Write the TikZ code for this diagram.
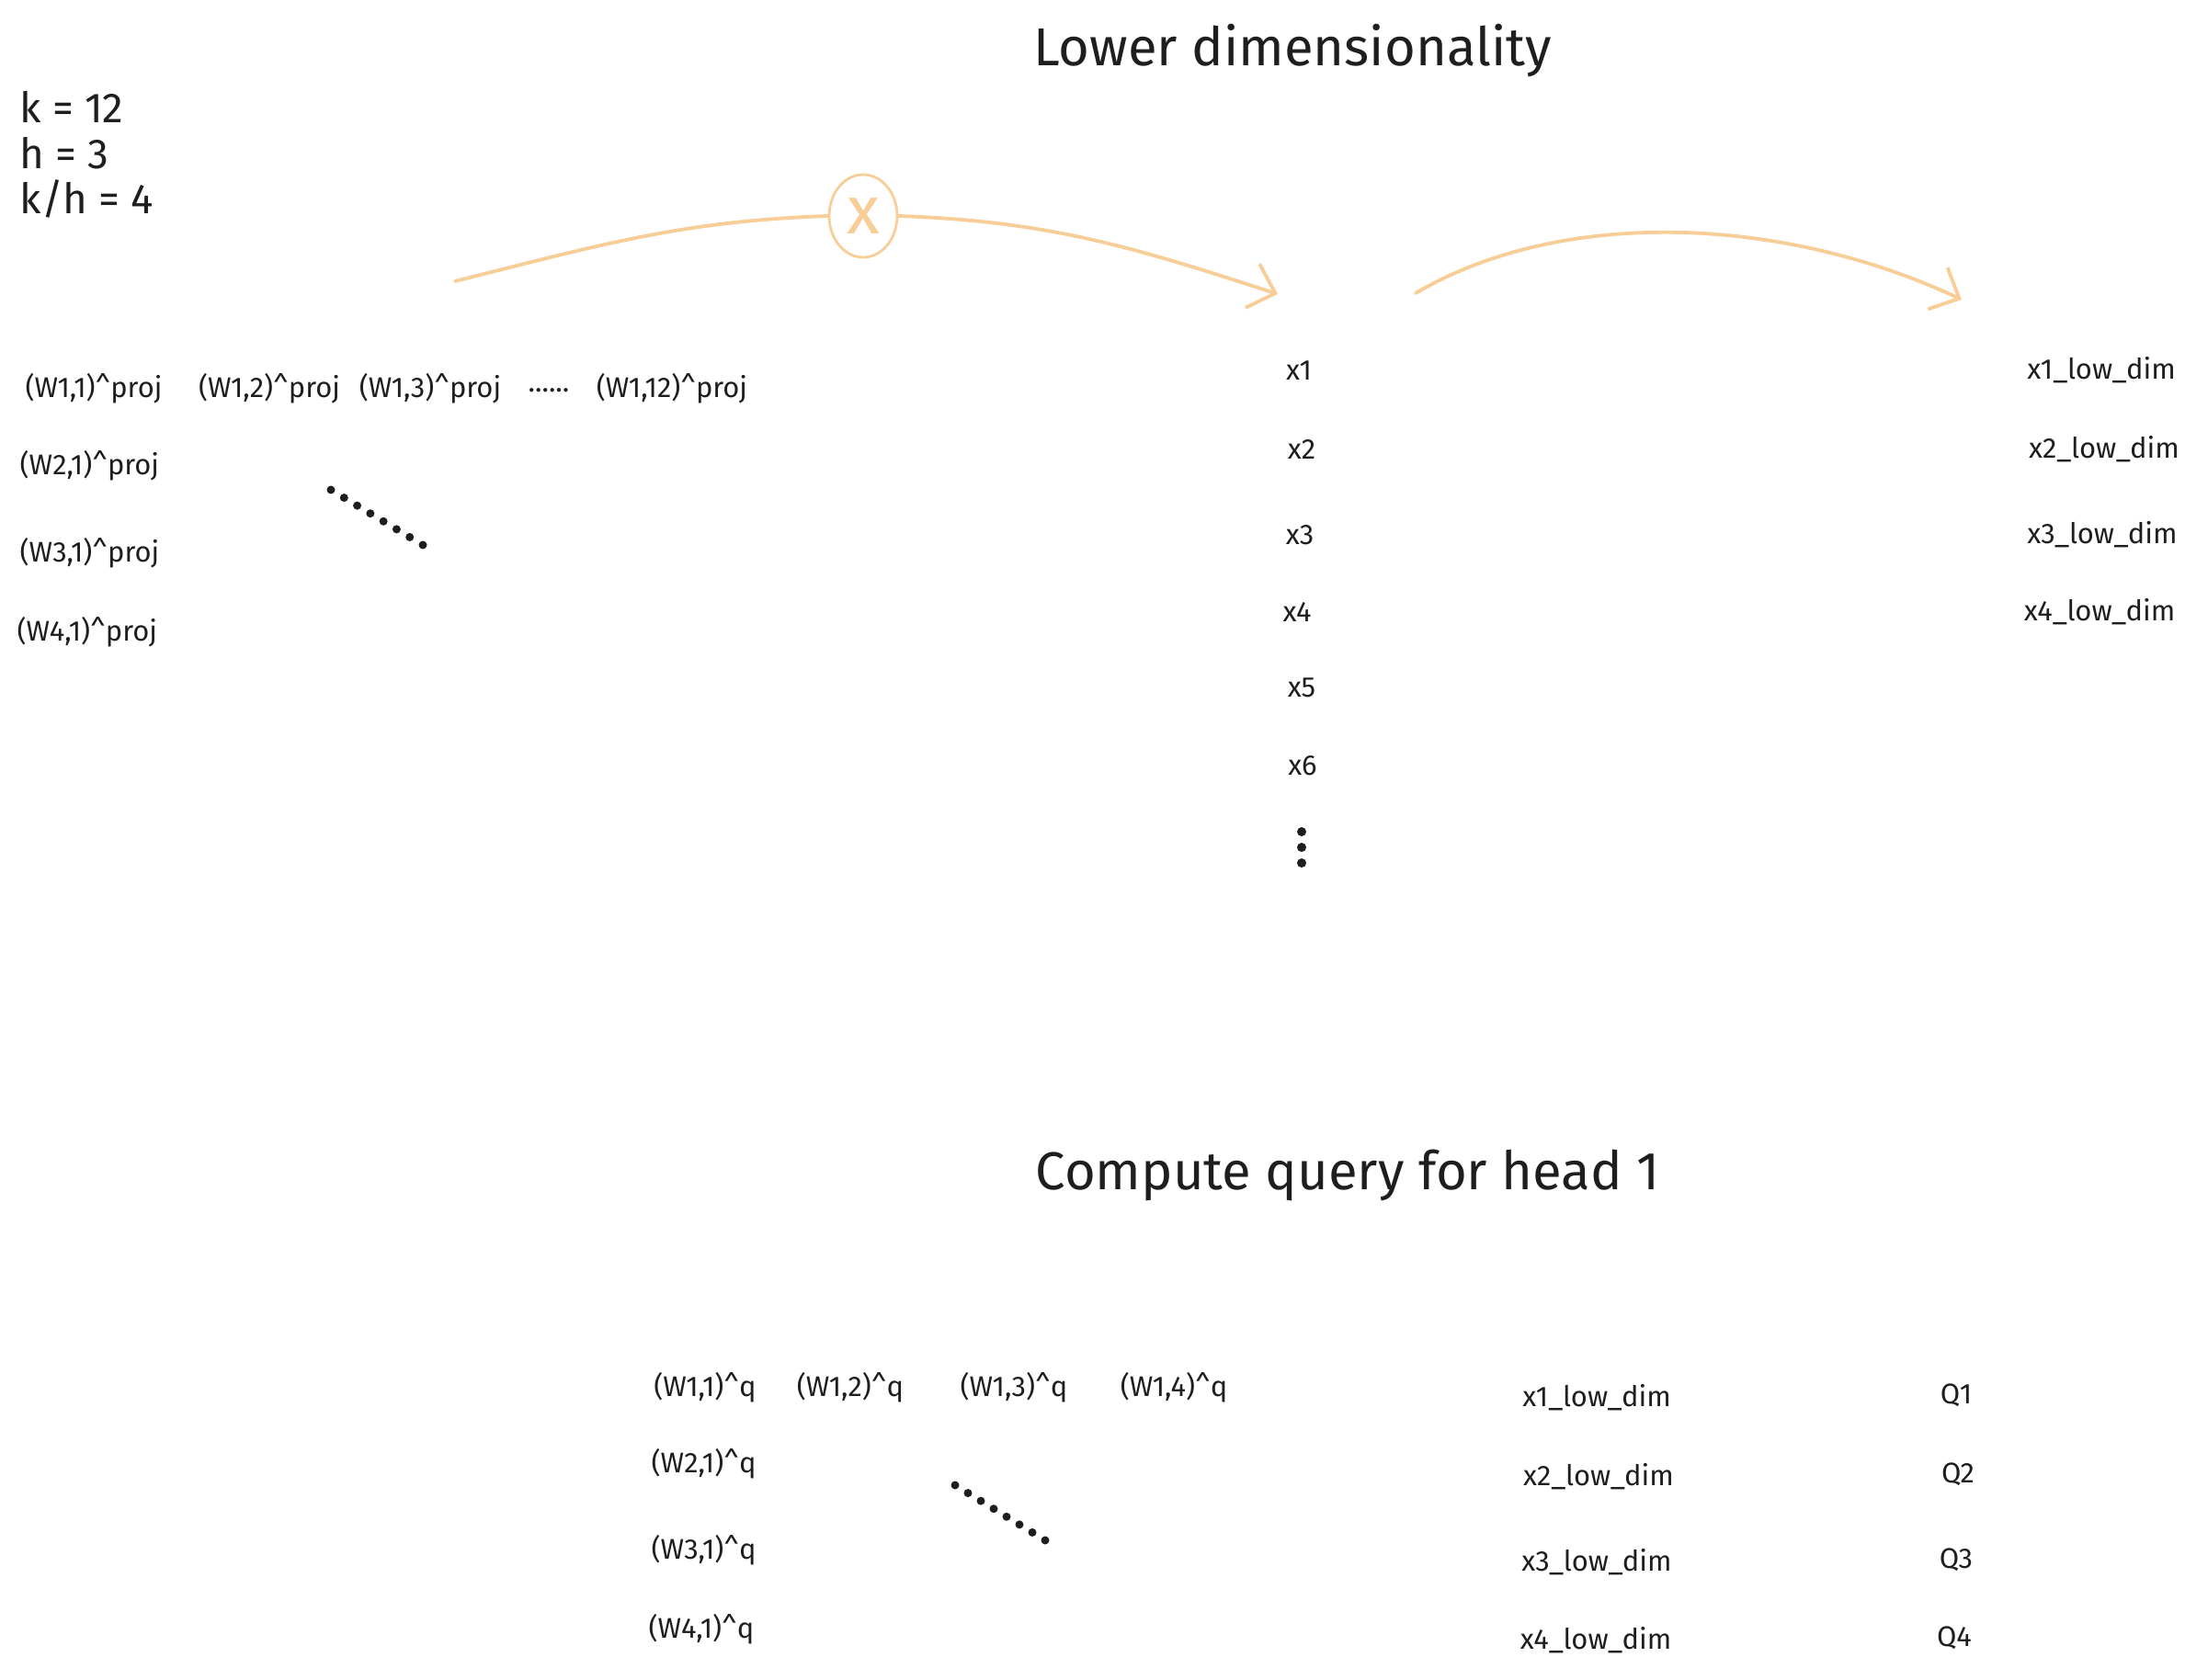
\documentclass[tikz,border=0pt]{standalone}
\usepackage{fontspec}
\setmainfont{Fira Sans}
\usetikzlibrary{arrows.meta,shapes.geometric}
\definecolor{peach}{RGB}{247,206,152}
\definecolor{ink}{RGB}{30,30,30}

\begin{document}
\begin{tikzpicture}[>={Straight Barb[length=2.6mm,width=5mm]}, font=\fontsize{8.8}{10}\selectfont,
    lbl/.style={inner sep=0pt, text=ink},
    note/.style={inner sep=0pt, text=ink, anchor=west, font=\fontsize{13}{15}\selectfont},
    ttl/.style={inner sep=0pt, text=ink, font=\fontsize{16.5}{19}\selectfont},
    sketch/.style={draw=peach, line width=1.1pt, line cap=round}]

        \useasboundingbox (0,0) rectangle (24.02,-18.28);

        % -----------------------
        % 1. Header and sizes
        % -----------------------
        \node[ttl] (ttllow) at (14.06,-0.55) {Lower dimensionality};
        \node[note] (kval) at (0.21,-1.16) {k = 12};
        \node[note] (hval) at (0.21,-1.67) {h = 3};
        \node[note] (khval) at (0.21,-2.16) {k/h = 4};

        % -----------------------
        % 2. Projection weights
        % -----------------------
        \node[lbl] (w11p) at (1.02,-4.23) {(W1,1)\textasciicircum proj};
        \node[lbl] (w12p) at (2.93,-4.23) {(W1,2)\textasciicircum proj};
        \node[lbl] (w13p) at (4.68,-4.23) {(W1,3)\textasciicircum proj};
        \node[lbl] (pdots) at (5.97,-4.25) {......};
        \node[lbl] (w112p) at (7.31,-4.23) {(W1,12)\textasciicircum proj};
        \node[lbl, anchor=west] (w21p) at (0.21,-5.07) {(W2,1)\textasciicircum proj};
        \node[lbl, anchor=west] (w31p) at (0.21,-6.02) {(W3,1)\textasciicircum proj};
        \node[lbl, anchor=west] (w41p) at (0.18,-6.88) {(W4,1)\textasciicircum proj};
        \foreach \i in {0,...,7}
            \fill[ink] ({3.60+\i*1.0/7},{-5.33-\i*0.60/7}) circle (0.045);

        % -----------------------
        % 3. Input column
        % -----------------------
        \node[lbl] (x1) at (14.13,-4.03) {x1};
        \node[lbl] (x2) at (14.16,-4.89) {x2};
        \node[lbl] (x3) at (14.14,-5.82) {x3};
        \node[lbl] (x4) at (14.11,-6.66) {x4};
        \node[lbl] (x5) at (14.16,-7.48) {x5};
        \node[lbl] (x6) at (14.17,-8.33) {x6};
        \foreach \i in {0,1,2}
            \fill[ink] (14.16,{-9.05-\i*0.17}) circle (0.05);

        % -----------------------
        % 4. Low dimension column
        % -----------------------
        \node[lbl] (xl1) at (22.86,-4.03) {x1\_low\_dim};
        \node[lbl] (xl2) at (22.89,-4.89) {x2\_low\_dim};
        \node[lbl] (xl3) at (22.87,-5.82) {x3\_low\_dim};
        \node[lbl] (xl4) at (22.84,-6.66) {x4\_low\_dim};

        % -----------------------
        % 5. Multiply arrows
        % -----------------------
        \node[ellipse, draw=peach, line width=0.8pt, minimum width=0.74cm, minimum height=0.9cm,
              inner sep=0pt, text=peach, font=\fontsize{21}{22}\selectfont] (mult) at (9.39,-2.35) {x};
        \coordinate (projin) at (4.95,-3.06);
        \coordinate (xin) at (13.90,-3.20);
        \coordinate (lowout) at (15.40,-3.19);
        \coordinate (lowin) at (21.34,-3.26);

        \draw[sketch] (projin) to[out=14,in=182] (mult.west);
        \draw[sketch, ->] (mult.east) to[out=-2,in=162] (xin);
        \draw[sketch, ->] (lowout) .. controls (17.0,-2.25) and (19.4,-2.35) .. (lowin);

        % -----------------------
        % 6. Query for head 1
        % -----------------------
        \node[ttl] (ttlq) at (14.66,-12.79) {Compute query for head 1};

        \node[lbl] (w11q) at (7.67,-15.10) {(W1,1)\textasciicircum q};
        \node[lbl] (w12q) at (9.25,-15.10) {(W1,2)\textasciicircum q};
        \node[lbl] (w13q) at (11.03,-15.10) {(W1,3)\textasciicircum q};
        \node[lbl] (w14q) at (12.77,-15.10) {(W1,4)\textasciicircum q};
        \node[lbl, anchor=west] (w21q) at (7.08,-15.93) {(W2,1)\textasciicircum q};
        \node[lbl, anchor=west] (w31q) at (7.08,-16.87) {(W3,1)\textasciicircum q};
        \node[lbl, anchor=west] (w41q) at (7.05,-17.73) {(W4,1)\textasciicircum q};
        \foreach \i in {0,...,7}
            \fill[ink] ({10.39+\i*0.98/7},{-16.16-\i*0.60/7}) circle (0.045);

        \node[lbl] (ql1) at (17.37,-15.21) {x1\_low\_dim};
        \node[lbl] (ql2) at (17.39,-16.07) {x2\_low\_dim};
        \node[lbl] (ql3) at (17.37,-17.00) {x3\_low\_dim};
        \node[lbl] (ql4) at (17.36,-17.85) {x4\_low\_dim};

        \node[lbl] (q1) at (21.28,-15.18) {Q1};
        \node[lbl] (q2) at (21.30,-16.04) {Q2};
        \node[lbl] (q3) at (21.28,-16.97) {Q3};
        \node[lbl] (q4) at (21.26,-17.82) {Q4};

    \end{tikzpicture}
\end{document}
